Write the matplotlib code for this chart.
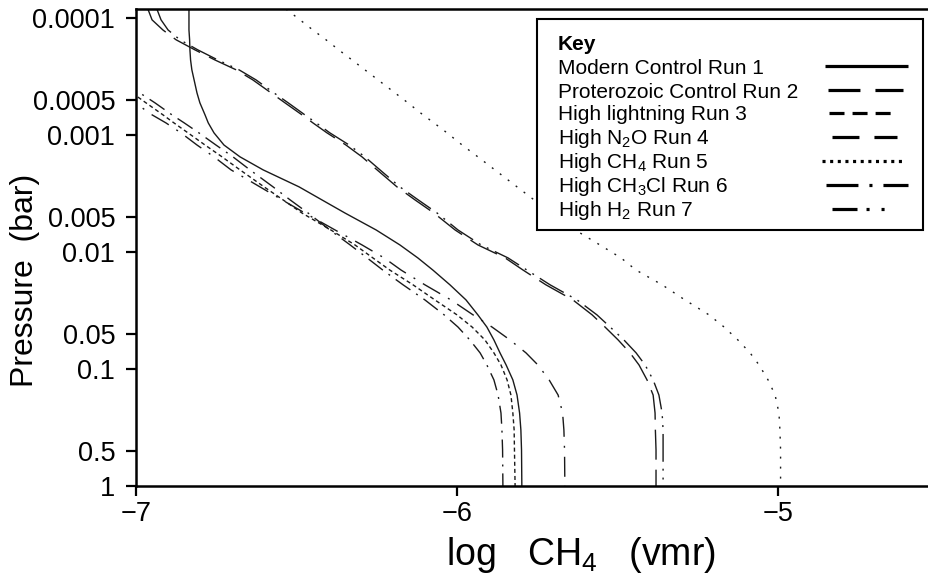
import numpy as np
import matplotlib
matplotlib.use("Agg")
import matplotlib.pyplot as plt
from matplotlib.patches import Rectangle

plt.rcParams['font.family'] = ['Liberation Sans', 'DejaVu Sans']
plt.rcParams['mathtext.fontset'] = 'custom'
plt.rcParams['mathtext.rm'] = 'Liberation Sans'
plt.rcParams['mathtext.it'] = 'Liberation Sans:italic'
plt.rcParams['mathtext.bf'] = 'Liberation Sans:bold'
plt.rcParams['lines.scale_dashes'] = False

nan = np.nan

# pressure levels (bar) at which the profiles were read
pressure = [0.000084, 0.000104, 0.000127, 0.000154, 0.000188, 0.000229, 0.000278, 0.000339,
            0.000438, 0.000532, 0.000674, 0.000789, 0.000961, 0.00122, 0.00154, 0.00199,
            0.00278, 0.00359, 0.00465, 0.00649, 0.00871, 0.01125, 0.0143, 0.0191,
            0.0257, 0.0345, 0.0438, 0.0565, 0.0729, 0.0924, 0.124, 0.167,
            0.238, 0.332, 0.492, 1.0]

# log CH4 (vmr) profiles
run1 = [-6.835, -6.835, -6.835, -6.833, -6.832, -6.830, -6.826, -6.819,
        -6.810, -6.801, -6.785, -6.775, -6.757, -6.726, -6.676, -6.604,
        -6.492, -6.421, -6.349, -6.252, -6.178, -6.122, -6.075, -6.022,
        -5.972, -5.935, -5.907, -5.885, -5.866, -5.847, -5.826, -5.813,
        -5.805, -5.801, -5.799, -5.798]
run2 = [-6.963, -6.950, -6.916, -6.875, -6.816, -6.754, -6.688, -6.636,
        -6.579, -6.536, -6.483, -6.449, -6.405, -6.346, -6.296, -6.249,
        -6.187, -6.131, -6.072, -6.006, -5.935, -5.850, -5.794, -5.723,
        -5.639, -5.579, -5.539, -5.498, -5.461, -5.433, -5.408, -5.389,
        -5.383, -5.382, -5.380, -5.380]
run3 = [nan, nan, nan, nan, nan, nan, nan, nan,
        -7.012, -6.969, -6.916, -6.882, -6.838, -6.785, -6.732, -6.676,
        -6.601, -6.542, -6.483, -6.393, -6.318, -6.262, -6.209, -6.137,
        -6.069, -6.000, -5.953, -5.913, -5.885, -5.863, -5.844, -5.832,
        -5.826, -5.822, -5.821, -5.819]
run4 = [nan, nan, nan, nan, nan, nan, nan, -7.044,
        -6.988, -6.941, -6.888, -6.850, -6.804, -6.751, -6.698, -6.645,
        -6.573, -6.520, -6.464, -6.396, -6.333, -6.280, -6.231, -6.168,
        -6.100, -6.040, -5.997, -5.960, -5.928, -5.907, -5.885, -5.872,
        -5.863, -5.860, -5.858, -5.857]
run5 = [-6.533, -6.489, -6.449, -6.408, -6.368, -6.327, -6.287, -6.246,
        -6.193, -6.153, -6.106, -6.072, -6.031, -5.984, -5.935, -5.882,
        -5.813, -5.760, -5.704, -5.632, -5.555, -5.489, -5.442, -5.361,
        -5.290, -5.215, -5.168, -5.125, -5.087, -5.059, -5.031, -5.009,
        -4.997, -4.994, -4.992, -4.992]
run6 = [nan, nan, nan, nan, nan, nan, nan, nan,
        -7.056, -7.003, -6.950, -6.907, -6.860, -6.810, -6.757, -6.704,
        -6.614, -6.545, -6.474, -6.380, -6.296, -6.227, -6.174, -6.100,
        -6.019, -5.950, -5.891, -5.835, -5.785, -5.748, -5.713, -5.685,
        -5.671, -5.667, -5.665, -5.664]
run7 = [-6.935, -6.922, -6.900, -6.863, -6.807, -6.745, -6.679, -6.626,
        -6.570, -6.526, -6.474, -6.439, -6.396, -6.336, -6.287, -6.240,
        -6.178, -6.121, -6.062, -5.997, -5.925, -5.841, -5.782, -5.710,
        -5.626, -5.564, -5.523, -5.480, -5.442, -5.414, -5.389, -5.371,
        -5.361, -5.358, -5.358, -5.358]

run_labels = ['Modern Control Run 1',
              'Proterozoic Control Run 2',
              'High lightning Run 3',
              r'High N$_\mathregular{2}$O Run 4',
              r'High CH$_\mathregular{4}$ Run 5',
              r'High CH$_\mathregular{3}$Cl Run 6',
              r'High H$_\mathregular{2}$ Run 7']

xticks = [-7, -6, -5]
yticks = [0.0001, 0.0005, 0.001, 0.005, 0.01, 0.05, 0.1, 0.5, 1]
ytick_labels = ['0.0001', '0.0005', '0.001', '0.005', '0.01', '0.05', '0.1', '0.5', '1']

# line patterns (points) for the profiles and for the key samples
plot_dashes = [None, (21.6, 7.2), (2.9, 2.2), (13, 5, 1.4, 5),
               (1.4, 5.8), (14.4, 6.5, 1.4, 6.5), (20, 5, 1.4, 5, 1.4, 5)]
key_dashes = [None, (23, 10.8), (10.8, 5.8), (19.4, 10.8, 16.6, 10.8),
              (2.2, 3.3), (23, 7.9, 2.2, 7.9), (18, 6.5, 2.2, 8.6, 2.2, 8.6)]
key_x = [(825, 908), (828, 903), (829, 892), (832, 897), (822, 906), (826, 908), (832, 887)]

W, H = 929, 584
fig = plt.figure(figsize=(W / 100, H / 100), dpi=100)


def fx(px):
    return px / W


def fy(py):
    return 1 - py / H


ax = fig.add_axes([fx(136), fy(486), fx(929) - fx(136), fy(9) - fy(486)])

line_col = '#1a1a1a'
profiles = [run1, run2, run3, run4, run5, run6, run7]
for vals, dsh in zip(profiles, plot_dashes):
    if dsh is None:
        ax.plot(vals, pressure, color=line_col, lw=1.0, ls='-')
    else:
        ax.plot(vals, pressure, color=line_col, lw=1.0, ls=(0, dsh))

ax.set_yscale('log')
ax.set_ylim(1, 0.000084)
ax.set_xlim(-7, -7 + (929 - 136) / 321)

ax.yaxis.set_major_locator(matplotlib.ticker.FixedLocator(yticks))
ax.yaxis.set_major_formatter(matplotlib.ticker.FixedFormatter(ytick_labels))
ax.yaxis.set_minor_locator(matplotlib.ticker.NullLocator())
ax.set_xticks(xticks)
ax.xaxis.set_minor_locator(matplotlib.ticker.NullLocator())

ax.tick_params(axis='both', direction='out', length=7, width=1.6, labelsize=19.5)
ax.tick_params(axis='y', pad=8)
ax.tick_params(axis='x', pad=4)
for s in ['left', 'bottom', 'top']:
    ax.spines[s].set_linewidth(1.8)
ax.spines['right'].set_visible(False)

ax.set_xlabel('log   CH$_\\mathregular{4}$   (vmr)', fontsize=27)
ax.xaxis.set_label_coords((581 - 136) / 793, (486 - 565) / 477)
ax.xaxis.label.set_va('baseline')
ax.set_ylabel('Pressure  (bar)', fontsize=23)
ax.yaxis.set_label_coords((25 - 136) / 793, (486 - 280) / 477)
ax.yaxis.label.set_va('center')
ax.yaxis.label.set_ha('center')

# key box
ax.add_patch(Rectangle((fx(537), fy(230)), fx(923) - fx(537), fy(19) - fy(230),
                       transform=fig.transFigure, facecolor='white', edgecolor='black',
                       lw=1.5, zorder=5, clip_on=False))
fig.text(fx(558), fy(50), 'Key', fontsize=15, fontweight='bold', va='baseline', zorder=6)
row_c = [66, 90, 113, 137, 161, 185, 209]
for i, lab in enumerate(run_labels):
    fig.text(fx(558), fy(row_c[i] + 7.5), lab, fontsize=15, va='baseline', zorder=6)
    x0, x1 = key_x[i]
    ls = '-' if key_dashes[i] is None else (0, key_dashes[i])
    ax.plot([fx(x0), fx(x1)], [fy(row_c[i]), fy(row_c[i])], transform=fig.transFigure,
            color='black', lw=2.3, ls=ls, solid_capstyle='butt', dash_capstyle='butt',
            zorder=6, clip_on=False)

fig.savefig('out.png', dpi=100)
